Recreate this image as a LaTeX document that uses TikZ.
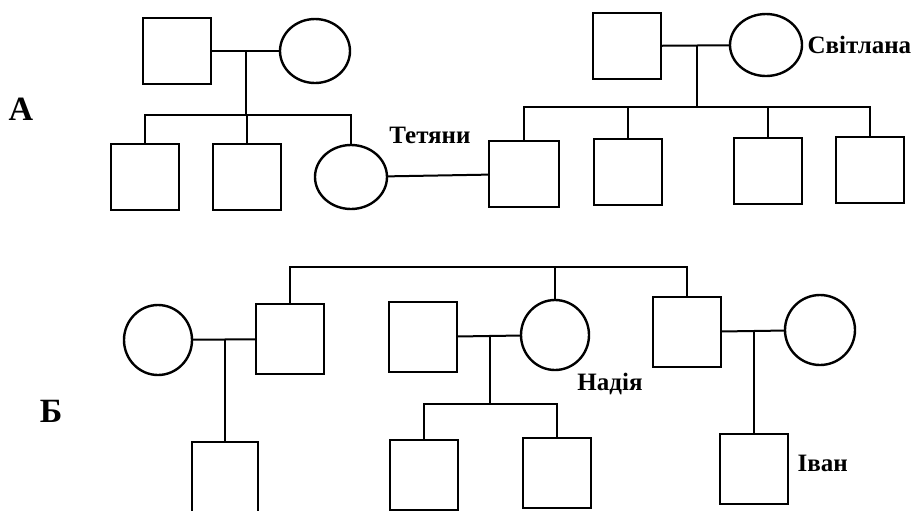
\documentclass[tikz,border=0pt]{standalone}
\usepackage{fontspec}
\setmainfont{Liberation Serif}
\usetikzlibrary{shapes.geometric,positioning}
\tikzset{
	male/.style = {rectangle,draw,line width=1.2pt,fill=white,
		inner sep=0pt,minimum width=34pt,minimum height=33pt},
	fem/.style  = {ellipse,draw,line width=1.2pt,fill=white,
		inner sep=0pt,minimum width=35pt,minimum height=32pt},
	lnk/.style  = {line width=1pt},
	lbl/.style  = {inner sep=1pt,font=\fontsize{12.5}{14}\selectfont\bfseries},
	part/.style = {inner sep=0pt,font=\fontsize{17}{20}\selectfont\bfseries},
}

\begin{document}
\begin{tikzpicture}[x=0.5pt,y=-0.5pt]
	\useasboundingbox (0,0) rectangle (912,510);
	
	% --- A: two families joined by Tetyana's marriage
	\node (pA) [part] at (21,109) {А};
	
	\node (fa1) [male] at (177,51) {};
	\node (mo1) [fem]  at (315,51) {};
	\node (c11) [male] at (145,177) {};
	\node (c12) [male] at (247,177) {};
	\node (tet) [fem,minimum width=36pt] at (351,177) {};
	
	\node (fa2) [male] at (627,46) {};
	\node (mo2) [fem,minimum width=36pt,minimum height=31pt] at (766,45) {};
	\node (hus) [male,minimum width=35pt] at (524,174) {};
	\node (c22) [male] at (628,172) {};
	\node (c23) [male] at (768,171) {};
	\node (c24) [male] at (870,170) {};
	
	\coordinate (mA1) at (246,51);
	\coordinate (sA1) at (246,115);
	\coordinate (mA2) at (697,45);
	\coordinate (sA2) at (697,107);
	
	\draw[lnk] (fa1) -- (mo1);
	\draw[lnk] (mA1) -- (sA1);
	\draw[lnk] (c11) |- (sA1) -| (tet);
	\draw[lnk] (sA1) -| (c12);
	
	\draw[lnk] (fa2) -- (mo2);
	\draw[lnk] (mA2) -- (sA2);
	\draw[lnk] (hus) |- (sA2) -| (c24);
	\draw[lnk] (c22) |- (sA2);
	\draw[lnk] (c23) |- (sA2);
	
	\draw[lnk] (tet) -- (hus);
	
	\node (lT) [lbl] at (430,135) {Тетяни};
	\node (lS) [lbl,right=1pt of mo2] {Світлана};
	
	% --- Б: three siblings with their own families
	\node (pB) [part] at (51,411) {Б};
	
	\begin{scope}[male/.append style={minimum height=35pt},
		fem/.append style={minimum width=34pt,minimum height=35pt}]
		\node (wL)  [fem]  at (158,340) {};
		\node (sL)  [male] at (290,339) {};
		\node (gL)  [male,minimum width=33pt] at (225,477) {};
		
		\node (hN)  [male] at (423,337) {};
		\node (nad) [fem]  at (555,335) {};
		\node (k1)  [male] at (424,475) {};
		\node (k2)  [male] at (557,473) {};
		
		\node (sR)  [male] at (687,332) {};
		\node (wR)  [fem,minimum width=35pt] at (820,330) {};
		\node (iv)  [male] at (754,469) {};
	\end{scope}
	
	\coordinate (tB)  at (555,267);
	\coordinate (mB1) at (225,339);
	\coordinate (mB2) at (490,336);
	\coordinate (sB2) at (490,404);
	\coordinate (mB3) at (754,331);
	
	\draw[lnk] (sL) |- (tB) -| (sR);
	\draw[lnk] (tB) -- (nad);
	
	\draw[lnk] (wL) -- (sL);
	\draw[lnk] (mB1) -- (gL);
	
	\draw[lnk] (hN) -- (nad);
	\draw[lnk] (mB2) -- (sB2);
	\draw[lnk] (k1) |- (sB2) -| (k2);
	
	\draw[lnk] (sR) -- (wR);
	\draw[lnk] (mB3) -- (iv);
	
	\node (lN) [lbl] at (610,384) {Надія};
	\node (lI) [lbl,right=3pt of iv,yshift=3pt] {Іван};
\end{tikzpicture}
\end{document}
